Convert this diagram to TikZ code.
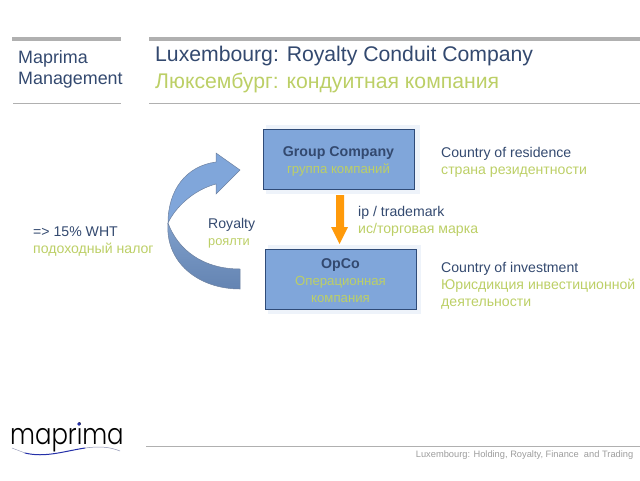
\documentclass[tikz,border=0pt]{standalone}
\usepackage{fontspec}
\setmainfont{Liberation Sans}
\newfontfamily\logofont[UprightFont=* Light]{Poppins}
\usetikzlibrary{arrows.meta}
\definecolor{navy}{HTML}{33496F}
\definecolor{lime}{HTML}{BCCF66}
\definecolor{rulegrey}{HTML}{B0B0B0}
\definecolor{boxblue}{HTML}{80A6DA}
\definecolor{boxedge}{HTML}{2F4B78}
\definecolor{haze}{HTML}{EEF3FA}
\definecolor{footgrey}{HTML}{9C9C9C}
\definecolor{iporange}{HTML}{FF9A0A}
\definecolor{wavegrey}{HTML}{8A8FB0}
\definecolor{waveblue}{HTML}{2430A8}
\definecolor{ribbonlow}{HTML}{6484B2}
\definecolor{ribbonhigh}{HTML}{7F9FCB}
\tikzset{
  rulethick/.style={draw=rulegrey,line width=3.6pt},
  rulethin/.style={draw=rulegrey,line width=1.4pt},
  companybox/.style={draw=boxedge,line width=0.9pt,fill=boxblue,minimum width=151pt,minimum height=60pt,inner sep=0pt},
  boxtext/.style={inner sep=0pt,align=center,font=\fontsize{14.2}{17}\selectfont},
  caption/.style={anchor=north west,inner sep=0pt,align=left,text=navy,font=\fontsize{14.1}{17}\selectfont},
  glow/.style={fill=haze,draw=none},
  ribbon/.style={draw=boxedge!70,line width=0.5pt}
}
\newcommand{\rus}[1]{\textcolor{lime}{#1}}
\begin{document}
\begin{tikzpicture}[x=1pt,y=-1pt]
\useasboundingbox (0,0) rectangle (640,480);
% header rules
\draw[rulethick] (12,39) -- (121,39);
\draw[rulethick] (149,39) -- (640,39);
\draw[rulethin] (13,103.5) -- (121,103.5);
\draw[rulethin] (149,103.5) -- (640,103.5);
\draw[rulethin] (146,446.5) -- (640,446.5);
% header texts
\node[anchor=north west,inner sep=0pt,align=left,text=navy,font=\fontsize{17.9}{21.5}\selectfont] (side) at (18,50) {Maprima\\Management};
\node[anchor=north west,inner sep=0pt,align=left,font=\fontsize{21.2}{26.5}\selectfont,text=navy] (title) at (155,46) {Luxembourg: Royalty Conduit Company\\\rus{Люксембург: кондуитная компания}};
% soft halo behind the boxes
\fill[glow] (266,125) rectangle (420,194);
\fill[glow] (268,245) rectangle (421,314);
% company boxes
\node[companybox] (group) at (338.5,159) {};
\node[companybox] (opco) at (340.5,279) {};
\node[boxtext,yshift=-2.5pt] (grouptext) at (group.center) {\textcolor{navy}{\textbf{Group Company}}\\[0pt]\rus{\fontsize{13.2}{16}\selectfont группа компаний}};
\node[boxtext,yshift=-1.5pt] (opcotext) at (opco.center) {\textcolor{navy}{\textbf{OpCo}}\\[0pt]\rus{\fontsize{13.2}{17}\selectfont Операционная}\\[0pt]\rus{\fontsize{13.2}{17}\selectfont компания}};
% licensing arrow
\coordinate (ipfrom) at (339.5,195);
\coordinate (ipto) at (339.5,244);
\draw[draw=none,fill=iporange] (336,195) -- (344,195) -- (344,227) -- (348,227) -- (ipto) -- (331,227) -- (336,227) -- cycle;
% royalty loop, lower and upper ribbon
\draw[ribbon,top color=ribbonhigh,bottom color=ribbonlow] (240,269) .. controls (203,269) and (178,250) .. (168,223) .. controls (165,262) and (198,289) .. (240,289) -- cycle;
\draw[ribbon,fill=boxblue] (168,223) .. controls (168,190) and (186,166) .. (216,162) -- (216,153) -- (240,170) -- (216,194) -- (216,184) .. controls (193,190) and (175,208) .. (168,223) -- cycle;
% captions
\node[caption] (wht) at (33,226.5) {=> 15\% WHT\\\rus{подоходный налог}};
\node[caption] (roy) at (208,218) {Royalty\\\rus{\fontsize{12.8}{16}\selectfont роялти}};
\node[caption] (ip) at (358,206) {ip / trademark\\\rus{ис/торговая марка}};
\node[caption] (res) at (441,147.5) {Country of residence\\\rus{страна резидентности}};
\node[caption] (inv) at (441,262) {Country of investment\\\rus{Юрисдикция инвестиционной}\\\rus{деятельности}};
% footer
\node[anchor=north east,inner sep=0pt,text=footgrey,font=\fontsize{9.3}{11}\selectfont] (foot) at (633.5,450.5) {Luxembourg: Holding, Royalty, Finance\ \ and Trading};
% logo
\node[anchor=base west,inner sep=0pt,xscale=0.84,transform shape,font=\logofont\fontsize{29}{29}\selectfont,text=black] (logo) at (10,444) {maprima};
\coordinate (w0) at (12,448);
\coordinate (w1) at (25,453);
\coordinate (w2) at (85,448);
\coordinate (w3) at (120,451);
\draw[draw=wavegrey,line width=0.4pt] (w0) -- (w1);
\draw[draw=waveblue,line width=1pt,line cap=round] (w1) .. controls (45,458) and (65,451) .. (w2);
\draw[draw=wavegrey,line width=0.5pt] (w2) .. controls (100,446) and (110,447) .. (w3);
\fill[waveblue] (79,424) circle (1.8pt);
\end{tikzpicture}
\end{document}
